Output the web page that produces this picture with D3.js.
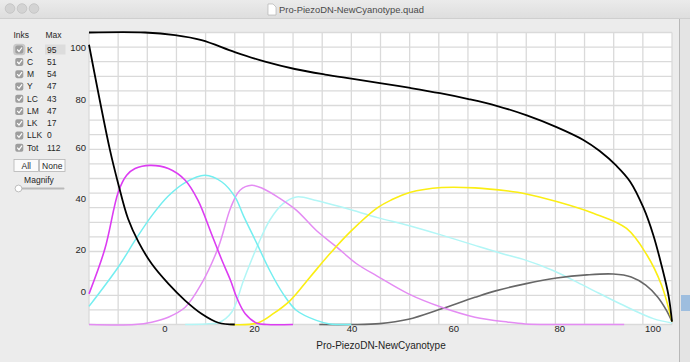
<!DOCTYPE html>
<html><head><meta charset="utf-8">
<script src="https://cdn.jsdelivr.net/npm/d3@7"></script>
<style>
html,body{margin:0;padding:0;background:#ececec;overflow:hidden}
svg{display:block;font-family:"Liberation Sans",Arial,sans-serif}
</style></head>
<body>
<script>
// ---- data ----
const windowTitle = "Pro-PiezoDN-NewCyanotype.quad";
const chartTitle = "Pro-PiezoDN-NewCyanotype";
const inkNames = ["K","C","M","Y","LC","LM","LK","LLK","Tot"];
const inkMax = [95,51,54,47,43,47,17,0,112];
const xTickLabels = [0,20,40,60,80,100];
const yTickLabels = [0,20,40,60,80,100];

const topX = [0,9.6,14.75,19.3,25,30.2,35.3,40.5,45,49.9,55.1,60.2,65.1,69.9,75.1,80.2,84.8,87.6,90.5,92.8,95.1,96.8,98.2,99.4,100];
const topY = [100,100,99.1,97.4,93.3,90,87.5,85.6,84.2,82.7,81,79.2,77.2,74.9,71.6,67.6,63.2,59.4,54.3,49,40,30.6,20.3,10,1];

const kX = [0,3.6,5.0,6.7,8.5,10.75,13.6,16.5,19.3,22.2,25];
const kY = [95.8,59.7,48.3,36.2,28.2,20.8,14,8.2,3.7,0.6,0];

const mX = [0,2.74,5.03,6.46,7.9,10.46,13.6,16.5,18.7,21,22.8,24.3,25.3,26.8,28.8,30.5,35];
const mY = [10.5,26,45.4,51.1,53.4,54.5,53.4,49.4,42.5,31.1,22,15,9.4,3.7,0.45,0,0];

const cX = [0,5.03,7.9,10.75,13.6,16.5,19.9,22.8,25.04,26.5,28.8,31,33.3,35.6,39,41.3,45];
const cY = [6.2,19.7,28.8,37.2,44,48.6,51.1,48.8,43.7,37.2,27.7,18.5,10.5,4.8,1.4,0.2,0];

const lmX = [0,7.9,10.75,13.6,16.5,19.3,22.2,24.3,25.9,27.9,29.9,32.8,35.6,39,42.5,45.9,49.5,54.8,60.5,66.2,71.9,74.8,80,91.8];
const lmY = [0,0,0.8,2.5,5.9,14,26.5,40,46,47.7,46.5,43.1,39.1,32.2,26.5,20.8,16.5,10.5,5.9,2.5,0.8,0.2,0,0];

const lcX = [16.5,20,22.2,24.5,26.5,28.8,31,33.3,35.6,39,44.2,49.5,54.8,60.5,66.2,71.9,74.5,79.6,85.4,91.1,96.8,100];
const lcY = [0,0.2,0.6,4.3,15.1,26.5,35.7,41.4,43.7,42.5,39.7,36.6,33.9,30.6,27.1,23.7,22.3,18.5,12.8,7.1,2,0.5];

const yelX = [24.2,28.8,31.6,34.5,37.9,41.3,44.8,49.5,51.9,55,60.5,66.2,71.9,74.8,80.2,86.5,92.2,95.7,98.2,100];
const yelY = [0,0.45,3.7,8.2,16.2,24.2,31.7,40,42.7,45.2,46.9,46.8,45.7,44.8,42.1,38.1,32.9,23.8,13.5,1];

const lkX = [39.5,45,49.9,54.8,60.2,66.2,69.9,75,80.2,85.4,89.9,93,95.5,97.5,99,100];
const lkY = [0,0,0.3,1.8,5.2,9.3,11.6,14,15.9,17,17.3,16.3,13.5,9.5,5,1];

const series = [
  {name:"LC", xs:lcX, ys:lcY, color:"#b2f6f6", w:1.5},
  {name:"LK", xs:lkX, ys:lkY, color:"#676767", w:1.6},
  {name:"LM", xs:lmX, ys:lmY, color:"#e48cf3", w:1.5},
  {name:"C",  xs:cX,  ys:cY,  color:"#74eef0", w:1.5},
  {name:"Y",  xs:yelX,ys:yelY,color:"#fbee14", w:1.6},
  {name:"M",  xs:mX,  ys:mY,  color:"#dc3cf2", w:1.6},
  {name:"K",  xs:kX,  ys:kY,  color:"#000000", w:1.8},
  {name:"Top",xs:topX,ys:topY,color:"#000000", w:1.8}
];

// ---- drawing ----
const W = 690, H = 362;
const svg = d3.select("body").append("svg").attr("width",W).attr("height",H);

svg.append("rect").attr("width",W).attr("height",H).attr("fill","#ececec");
const tb = svg.append("g");
const grad = svg.append("defs").append("linearGradient").attr("id","tbg").attr("x1",0).attr("x2",0).attr("y1",0).attr("y2",1);
grad.append("stop").attr("offset","0%").attr("stop-color","#ebebeb");
grad.append("stop").attr("offset","100%").attr("stop-color","#dedede");
tb.append("rect").attr("x",0).attr("y",0).attr("width",W).attr("height",18).attr("fill","url(#tbg)");
tb.append("line").attr("x1",0).attr("x2",W).attr("y1",18.5).attr("y2",18.5).attr("stroke","#cfcfcf");
[10,22,34].forEach(cx=>{
  tb.append("circle").attr("cx",cx).attr("cy",8.5).attr("r",4.8).attr("fill","#d3d3d3").attr("stroke","#bdbdbd").attr("stroke-width",0.7);
});
tb.append("path").attr("d","M268,4 h5 l3,3 v8 h-8 z").attr("fill","#fff").attr("stroke","#aaa").attr("stroke-width",0.6);
tb.append("text").attr("x",279).attr("y",12.5).attr("font-size",9.4).attr("fill","#4a4a4a").text(windowTitle);

svg.append("rect").attr("x",679).attr("y",19).attr("width",11).attr("height",H-19).attr("fill","#e4e4e4");
svg.append("line").attr("x1",679.5).attr("x2",679.5).attr("y1",19).attr("y2",H).attr("stroke","#b8b8b8");
svg.append("rect").attr("x",681).attr("y",295).attr("width",9).attr("height",16).attr("fill","#9ebedf");

// ---- plot ----
const x = d3.scaleLinear().domain([0,100]).range([89,672]);
const y = d3.scaleLinear().domain([0,100]).range([324.5,32.5]);

svg.append("rect").attr("x",x(0)).attr("y",y(100)).attr("width",x(100)-x(0)).attr("height",y(0)-y(100)).attr("fill","#ffffff");

const grid = svg.append("g").attr("stroke","#dadada").attr("stroke-width",1.3);
d3.range(0,101,5).forEach(v=>{
  grid.append("line").attr("x1",x(v)).attr("x2",x(v)).attr("y1",y(0)).attr("y2",y(100));
  grid.append("line").attr("x1",x(0)).attr("x2",x(100)).attr("y1",y(v)).attr("y2",y(v));
});

const line = d3.line().curve(d3.curveCatmullRom.alpha(0.5));
series.forEach(s=>{
  const pts = s.xs.map((xv,i)=>[x(xv), y(s.ys[i])]);
  svg.append("path").attr("d",line(pts)).attr("fill","none")
    .attr("stroke",s.color).attr("stroke-width",s.w).attr("stroke-linejoin","round");
});

const yLab = d3.scaleLinear().domain([0,20,40,60,80,100]).range([291.5,249,198,147.5,99,47.5]);
const yAxis = d3.axisLeft(yLab).tickValues(yTickLabels).tickSize(0).tickPadding(0);
const ya = svg.append("g").attr("transform","translate(86,0)").call(yAxis);
ya.select(".domain").remove();
ya.selectAll("text").attr("font-size",9.5).attr("fill","#262626").attr("font-family","Liberation Sans, Arial, sans-serif");

const xLab = d3.scaleLinear().domain([0,20,40,60,80,100]).range([164.3,254,351.5,453.3,559.3,652.5]);
const xAxis = d3.axisBottom(xLab).tickValues(xTickLabels).tickSize(0).tickPadding(0);
const xa = svg.append("g").attr("transform","translate(0,325)").call(xAxis);
xa.select(".domain").remove();
xa.selectAll("text").attr("font-size",9.5).attr("fill","#262626").attr("font-family","Liberation Sans, Arial, sans-serif");

svg.append("text").attr("x",381).attr("y",349).attr("text-anchor","middle")
  .attr("font-size",10).attr("fill","#1e1e1e").text(chartTitle);

const panel = svg.append("g").attr("font-size",8.5).attr("fill","#262626");
panel.append("text").attr("x",13.5).attr("y",38).text("Inks");
panel.append("text").attr("x",45.5).attr("y",38).text("Max");
const row = d3.scalePoint().domain(inkNames).range([49.5,147.7]);
panel.append("rect").attr("x",45).attr("y",44.5).attr("width",20.5).attr("height",10).attr("fill","#dcdcdc");
panel.append("rect").attr("x",13.2).attr("y",43.7).attr("width",12.2).attr("height",11.6).attr("rx",3.5).attr("fill","#c9c9c9");
inkNames.forEach((n,i)=>{
  const cy = row(n);
  panel.append("rect").attr("x",15.3).attr("y",cy-3.9).attr("width",8).attr("height",8).attr("rx",1.8).attr("fill","#9d9d9d");
  panel.append("path").attr("d",`M17.2,${cy} l1.8,2 l3,-4`).attr("fill","none").attr("stroke","#fff").attr("stroke-width",1.2);
  panel.append("text").attr("x",27).attr("y",cy+3).text(n);
  panel.append("text").attr("x",47).attr("y",cy+3).text(inkMax[i]);
});
[["All",14,24.5],["None",39.5,25.5]].forEach(([t,bx,bw])=>{
  panel.append("rect").attr("x",bx).attr("y",159.5).attr("width",bw).attr("height",12).attr("fill","#fbfbfb").attr("stroke","#b5b5b5").attr("stroke-width",0.8);
  panel.append("text").attr("x",bx+bw/2).attr("y",168.5).attr("text-anchor","middle").text(t);
});
panel.append("text").attr("x",39).attr("y",183).attr("text-anchor","middle").text("Magnify");
panel.append("line").attr("x1",16.5).attr("x2",63.5).attr("y1",188.5).attr("y2",188.5).attr("stroke","#b9b9b9").attr("stroke-width",2).attr("stroke-linecap","round");
panel.append("circle").attr("cx",18.5).attr("cy",188.5).attr("r",3.4).attr("fill","#fff").attr("stroke","#a5a5a5").attr("stroke-width",0.7);
</script>
</body></html>
